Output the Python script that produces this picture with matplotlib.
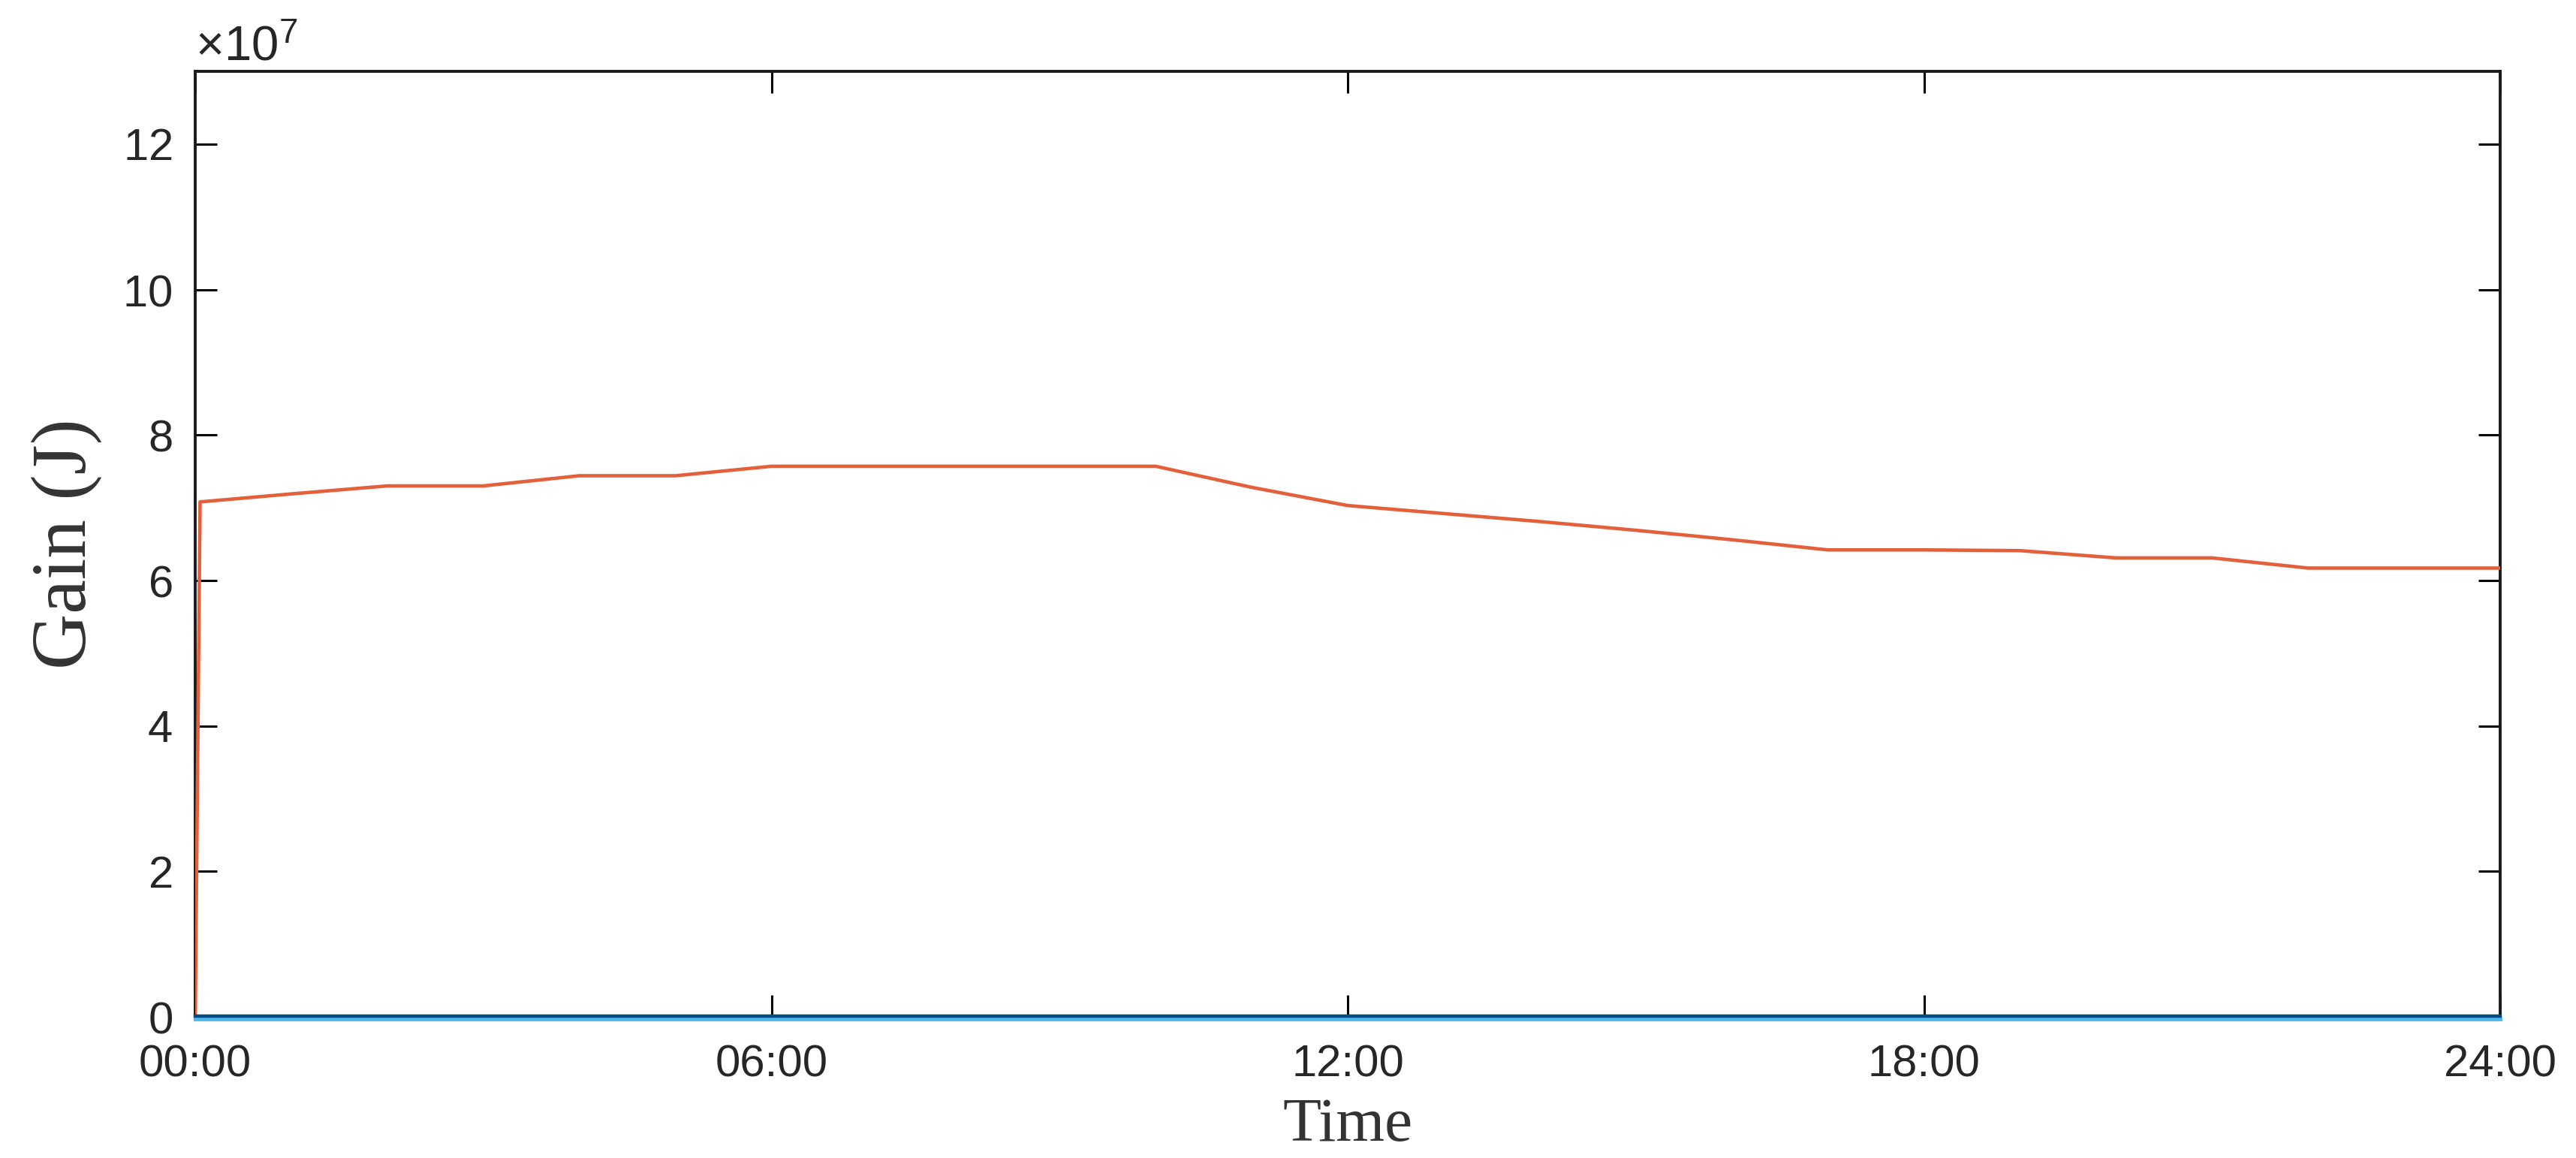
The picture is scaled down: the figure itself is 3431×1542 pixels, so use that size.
'''
Gain over one day, recreated with matplotlib
'''
import matplotlib
matplotlib.use("Agg")
import matplotlib.pyplot as plt
import matplotlib.transforms as mtransforms
from matplotlib.ticker import ScalarFormatter, FuncFormatter

plt.rcParams['font.family'] = ['Liberation Sans', 'DejaVu Sans']
plt.rcParams['mathtext.fontset'] = 'custom'
plt.rcParams['mathtext.rm'] = 'Liberation Sans'
plt.rcParams['mathtext.it'] = 'Liberation Sans:italic'

# data (time in hours, gain in 1e7 J)
hours = [0, 0.05, 1, 2, 3, 4, 5, 6, 7, 8, 9, 10, 11, 12, 13, 14, 15, 16,
         17, 18, 19, 20, 21, 22, 23, 24]
gain_orange = [0, 7.08, 7.19, 7.30, 7.30, 7.44, 7.44, 7.57, 7.57, 7.57, 7.57,
               7.57, 7.28, 7.03, 6.92, 6.81, 6.69, 6.56, 6.42, 6.42, 6.41,
               6.31, 6.31, 6.17, 6.17, 6.17]
hours_blue = [0, 24]
gain_blue = [0, 0]
scale = 1e7

xticks = [0, 6, 12, 18, 24]
yticks = [0, 2, 4, 6, 8, 10, 12]

fig = plt.figure(figsize=(34.31, 15.42), dpi=100)
ax = fig.add_axes([0.0758, 0.1219, 0.8948, 0.8165])

ax.plot(hours, [g * scale for g in gain_orange], color='#e4603a', lw=3.3, zorder=3)
# blue line sits on the bottom spine, drawn as light + dark stroke
ax.plot(hours_blue, gain_blue, color='#4cb8e8', lw=3.5, zorder=5, clip_on=False,
        transform=ax.transData + mtransforms.ScaledTranslation(0, -3/100, fig.dpi_scale_trans))
ax.plot(hours_blue, gain_blue, color='#004c84', lw=3.2, zorder=6, clip_on=False,
        transform=ax.transData + mtransforms.ScaledTranslation(0, 1/100, fig.dpi_scale_trans))

ax.set_xlim(0, 24)
ax.set_ylim(0, 13 * scale)
ax.set_xticks(xticks)
ax.xaxis.set_major_formatter(FuncFormatter(lambda v, p: '%02d:00' % int(v)))
ax.set_yticks([y * scale for y in yticks])
fmt = ScalarFormatter(useMathText=True)
fmt.set_powerlimits((7, 7))
ax.yaxis.set_major_formatter(fmt)

ax.tick_params(direction='in', length=21, width=2.2, labelsize=43, labelcolor='#262626',
               top=True, right=True)
ax.tick_params(axis='y', pad=22)
ax.tick_params(axis='x', pad=26)
for s in ax.spines.values():
    s.set_linewidth(2.8)
    s.set_color('#1a1a1a')

off = ax.yaxis.get_offset_text()
off.set_fontsize(47)
off.set_color('#262626')
ax.yaxis.OFFSETTEXTPAD = 10

ax.set_xlabel('Time', family='Liberation Serif', fontsize=60, color='#333333', labelpad=12)
ax.set_ylabel('Gain (J)', family='Liberation Serif', fontsize=74, color='#333333', labelpad=20)

fig.savefig('out.png', dpi=100, facecolor='white')
